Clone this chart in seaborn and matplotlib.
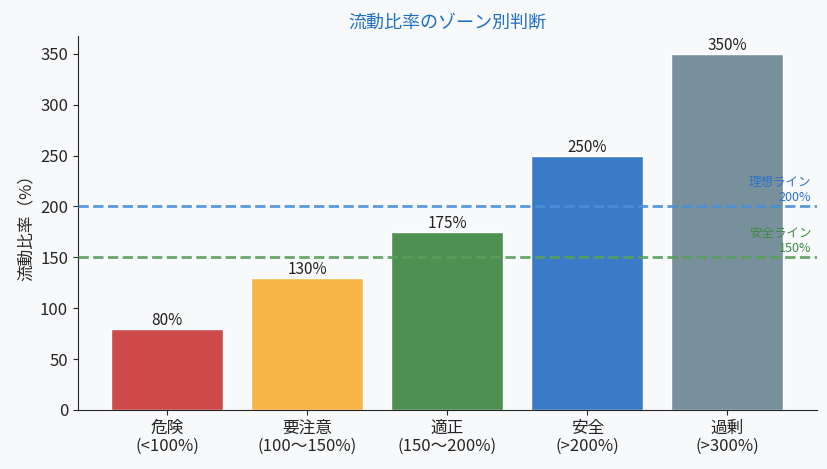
import matplotlib
matplotlib.use("Agg")
import matplotlib.pyplot as plt
import seaborn as sns

sns.set_style("ticks")
plt.rcParams['font.family'] = ['Noto Sans CJK JP', 'DejaVu Sans']
plt.rcParams['axes.unicode_minus'] = False

labels = ['危険\n(<100%)', '要注意\n(100〜150%)', '適正\n(150〜200%)', '安全\n(>200%)', '過剰\n(>300%)']
values = [80, 130, 175, 250, 350]
colors = ['#cf4a4a', '#f8b547', '#4e8f52', '#3a7bc8', '#78909c']
ideal_line = 200
safe_line = 150

bg = '#f8f9fb'
fig, ax = plt.subplots(figsize=(8.27, 4.69), dpi=100)
fig.patch.set_facecolor(bg)
ax.set_facecolor(bg)
fig.subplots_adjust(left=0.094, right=0.988, top=0.923, bottom=0.126)

x = list(range(len(values)))
bars = ax.bar(x, values, width=0.8, color=colors, edgecolor='white', linewidth=1)
for xi, v in zip(x, values):
    ax.text(xi, v, f"{v}%", ha='center', va='bottom', fontsize=11, color='#222222',
            linespacing=1.0)

ax.axhline(ideal_line, color='#4a8fd6', ls='--', lw=2, alpha=0.9, zorder=3)
ax.axhline(safe_line, color='#5a9e5a', ls='--', lw=2, alpha=0.9, zorder=3)
ax.text(4.6, ideal_line + 2, '理想ライン\n200%', ha='right', va='bottom', fontsize=9, color='#2f74c4')
ax.text(4.6, safe_line + 2, '安全ライン\n150%', ha='right', va='bottom', fontsize=9, color='#3f8a43')

ax.set_xticks(x)
ax.set_xticklabels(labels, fontsize=12, linespacing=1.1)
ax.tick_params(axis='y', labelsize=12)
ax.set_ylabel('流動比率（%）', fontsize=12)
ax.set_title('流動比率のゾーン別判断', fontsize=13, color='#1f6fc5')
sns.despine(ax=ax)

plt.savefig('out.png', dpi=100, facecolor=bg)
